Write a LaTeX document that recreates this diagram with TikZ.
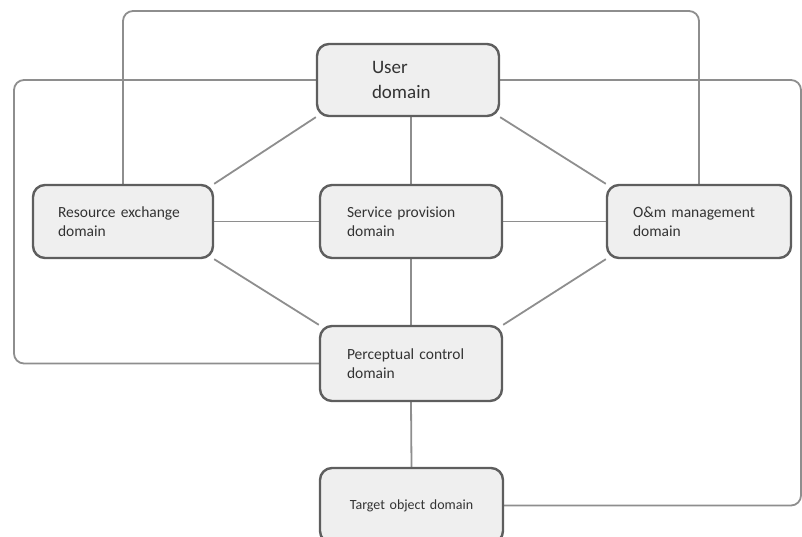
\documentclass[tikz,border=0pt]{standalone}
\usepackage{fontspec}
\setmainfont{Carlito}
\usetikzlibrary{backgrounds}
\definecolor{boxfill}{HTML}{EFEFEF}
\definecolor{boxline}{HTML}{5E5E5E}
\definecolor{conn}{HTML}{8E8E8E}
\definecolor{txt}{HTML}{333333}
\tikzset{
  dombox/.style={draw=boxline, line width=2.4pt, fill=boxfill, rounded corners=12pt,
    text=txt, align=left, inner ysep=0pt, minimum height=#1},
  dombox/.default=73pt,
  link/.style={draw=conn, line width=1.8pt},
  outer/.style={draw=conn, line width=1.8pt, rounded corners=10pt}
}
\begin{document}
\begin{tikzpicture}[x=1pt,y=-1pt]
\clip (0,0) rectangle (802,537);
\node[dombox=72pt, inner xsep=55pt, text width=72pt, font=\fontsize{19}{25}\selectfont] (U) at (408,80) {User\\domain};
\node[dombox, inner xsep=25pt, text width=130pt, font=\fontsize{15.5}{19}\selectfont] (R) at (123,221.5) {Resource exchange\\domain};
\node[dombox, inner xsep=27pt, text width=128pt, font=\fontsize{15.5}{19}\selectfont] (S) at (411,221.5) {Service provision\\domain};
\node[dombox, inner xsep=26pt, text width=132pt, font=\fontsize{15.5}{19}\selectfont] (O) at (699,221.5) {O\&m management\\domain};
\node[dombox=75pt, inner xsep=27pt, text width=128pt, font=\fontsize{15.5}{19}\selectfont] (P) at (411,363.5) {Perceptual control\\domain};
\node[dombox=75pt, inner xsep=10pt, text width=163pt, align=center, font=\fontsize{14}{17}\selectfont] (T) at (411.5,505.5) {Target object domain};
\coordinate (ctop) at (400,11);
\coordinate (cleft) at (14,200);
\coordinate (cright) at (801,300);
\begin{pgfonlayer}{background}
\draw[link] (U.south west) -- (R.north east);
\draw[link] (U.south east) -- (O.north west);
\draw[link] (S.north) -- (S.north |- U.south);
\draw[link] (R.east) -- (S.west);
\draw[link] (S.east) -- (O.west);
\draw[link] (R.south east) -- (P.north west);
\draw[link] (S.south) -- (P.north);
\draw[link] (O.south west) -- (P.north east);
\draw[link] (P.south) -- (T.north);
\draw[outer] (R.north) |- (ctop) -| (O.north);
\draw[outer] (U.west) -| (cleft) |- (P.west);
\draw[outer] (U.east) -| (cright) |- (T.east);
\end{pgfonlayer}
\end{tikzpicture}
\end{document}
